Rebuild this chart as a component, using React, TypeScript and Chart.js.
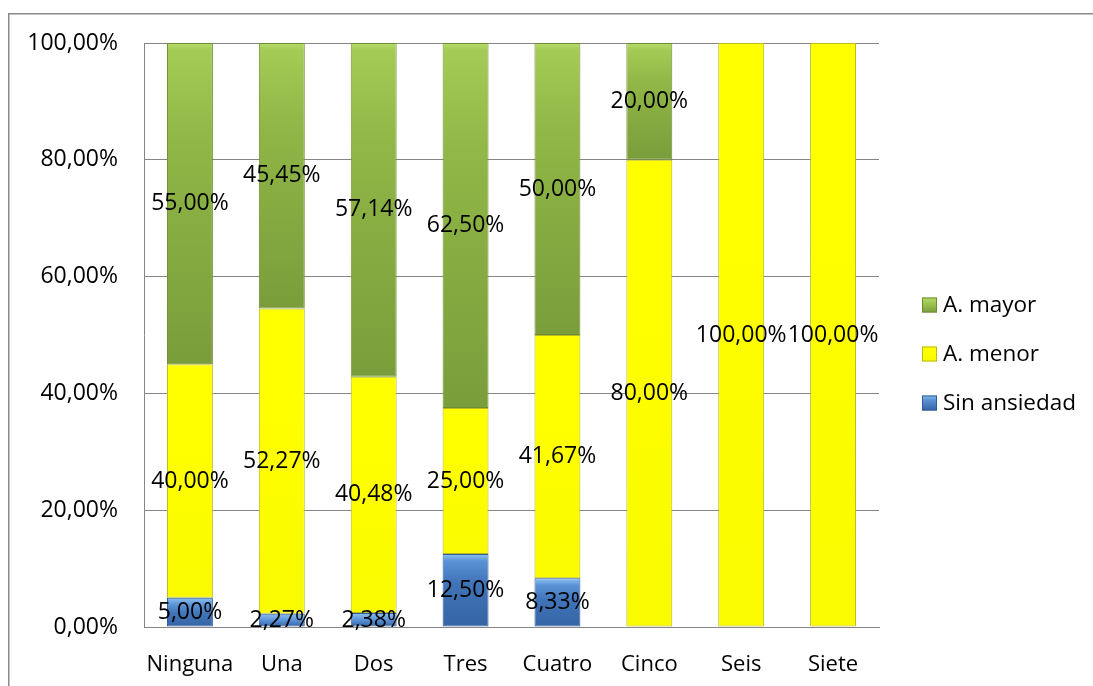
import React, { useEffect, useRef } from "react";
import { Chart, registerables } from "chart.js";

Chart.register(...registerables);

const categories = ["Ninguna", "Una", "Dos", "Tres", "Cuatro", "Cinco", "Seis", "Siete"];
const sinAnsiedad = [5.0, 2.27, 2.38, 12.5, 8.33, 0, 0, 0];
const aMenor = [40.0, 52.27, 40.48, 25.0, 41.67, 80.0, 100.0, 100.0];
const aMayor = [55.0, 45.45, 57.14, 62.5, 50.0, 20.0, 0, 0];
const seriesNames = ["Sin ansiedad", "A. menor", "A. mayor"];
const yTicks = [0, 20, 40, 60, 80, 100];

const allSeries = [sinAnsiedad, aMenor, aMayor];
const FONT = "'Open Sans', 'DejaVu Sans', sans-serif";

const fmt = (v: number) => v.toFixed(2).replace(".", ",") + "%";

const stopsBy: string[][] = [
  ["#8ec2f2", "#5a92d6", "#4074b8", "#3564a4"],
  ["#ffff00", "#ffff00", "#ffff00", "#fafa00"],
  ["#b6dc6c", "#a4cb55", "#8fb646", "#7a9d3b"],
];
const borders = ["#2e5b96", "#b9b922", "#6c8c32"];
const solid = ["#4a80c4", "#ffff00", "#8fb646"];

function gradFill(dsIndex: number) {
  return (ctx: any) => {
    if (ctx.type !== "data") return solid[dsIndex];
    const chart = ctx.chart;
    const y = chart.scales && chart.scales.y;
    if (!y || !chart.chartArea) return solid[dsIndex];
    const i = ctx.dataIndex;
    let start = 0;
    for (let d = 0; d < dsIndex; d++) start += allSeries[d][i];
    const end = start + allSeries[dsIndex][i];
    const top = y.getPixelForValue(end);
    const bot = y.getPixelForValue(start);
    if (!isFinite(top) || !isFinite(bot) || Math.abs(bot - top) < 1) return solid[dsIndex];
    const g = chart.ctx.createLinearGradient(0, top, 0, bot);
    const s = stopsBy[dsIndex];
    const h = bot - top;
    const band = Math.min(0.5, 7 / h);
    g.addColorStop(0, s[0]);
    g.addColorStop(band, s[1]);
    g.addColorStop(Math.min(0.9, band + 0.3), s[2]);
    g.addColorStop(1, s[3]);
    return g;
  };
}

const frame = {
  id: "outerFrame",
  beforeDraw(chart: any) {
    const c = chart.ctx;
    c.save();
    c.fillStyle = "#ffffff";
    c.fillRect(0, 0, chart.width, chart.height);
    c.strokeStyle = "#8a8a8a";
    c.lineWidth = 1.5;
    c.beginPath();
    c.moveTo(8.75, chart.height);
    c.lineTo(8.75, 13.75);
    c.lineTo(chart.width, 13.75);
    c.stroke();
    c.restore();
  },
};

const labelsPlugin = {
  id: "segLabels",
  afterDatasetsDraw(chart: any) {
    const c = chart.ctx;
    const y = chart.scales.y;
    c.save();
    c.font = `23px ${FONT}`;
    c.fillStyle = "#000000";
    c.textAlign = "center";
    c.textBaseline = "middle";
    chart.data.datasets.forEach((ds: any, d: number) => {
      const meta = chart.getDatasetMeta(d);
      meta.data.forEach((bar: any, i: number) => {
        const v = allSeries[d][i];
        if (!v) return;
        let start = 0;
        for (let k = 0; k < d; k++) start += allSeries[k][i];
        const cy = y.getPixelForValue(start + v / 2);
        c.fillText(fmt(v), bar.x, cy);
      });
    });
    c.restore();
  },
};

const legendPlugin = {
  id: "sideLegend",
  afterDraw(chart: any) {
    const c = chart.ctx;
    const area = chart.chartArea;
    const x0 = area.right + 43;
    const rows = [2, 1, 0];
    c.save();
    c.font = `22.5px ${FONT}`;
    c.textAlign = "left";
    c.textBaseline = "middle";
    rows.forEach((d, r) => {
      const cy = 305 + r * 49;
      const g = c.createLinearGradient(0, cy - 7.5, 0, cy + 7.5);
      const s = stopsBy[d];
      g.addColorStop(0, s[0]);
      g.addColorStop(0.3, s[1]);
      g.addColorStop(1, s[3]);
      c.fillStyle = g;
      c.fillRect(x0, cy - 7.5, 15, 15);
      c.strokeStyle = borders[d];
      c.lineWidth = 1;
      c.strokeRect(x0 + 0.5, cy - 7, 14, 14);
      c.fillStyle = "#000000";
      c.fillText(seriesNames[d], x0 + 21, cy + 1);
    });
    c.restore();
  },
};

export default function App() {
  const ref = useRef<HTMLCanvasElement | null>(null);
  useEffect(() => {
    if (!ref.current) return;
    const chart = new Chart(ref.current, {
      type: "bar",
      data: {
        labels: categories,
        datasets: allSeries.map((arr, d) => ({
          label: seriesNames[d],
          data: arr,
          backgroundColor: gradFill(d),
          borderColor: borders[d],
          borderWidth: 1,
          borderSkipped: false,
          barPercentage: 0.5,
          categoryPercentage: 1,
        })),
      },
      options: {
        responsive: false,
        animation: false,
        devicePixelRatio: 1,
        layout: { padding: { left: 0, top: 43, right: 214, bottom: 0 } },
        plugins: {
          legend: { display: false },
          tooltip: { enabled: false },
        },
        scales: {
          x: {
            stacked: true,
            grid: { display: false, drawTicks: false },
            border: { display: true, color: "#868686", width: 1 },
            ticks: { color: "#000000", font: { family: FONT, size: 22 }, padding: 25, maxRotation: 0 },
            afterFit: (s: any) => {
              s.height = 59;
            },
          },
          y: {
            stacked: true,
            min: 0,
            max: 100,
            afterBuildTicks: (s: any) => {
              s.ticks = yTicks.map((v) => ({ value: v }));
            },
            grid: { color: "#868686", drawTicks: false, lineWidth: 1 },
            border: { display: true, color: "#868686", width: 1 },
            ticks: {
              color: "#000000",
              font: { family: FONT, size: 23 },
              padding: 26,
              callback: (v: any) => fmt(Number(v)),
            },
            afterFit: (s: any) => {
              s.width = 144;
            },
          },
        },
      },
      plugins: [frame, labelsPlugin, legendPlugin],
    });
    return () => chart.destroy();
  }, []);
  return (
    <canvas
      ref={ref}
      width={1093}
      height={686}
      style={{ position: "absolute", left: 0, top: 0, width: 1093, height: 686 }}
    />
  );
}
